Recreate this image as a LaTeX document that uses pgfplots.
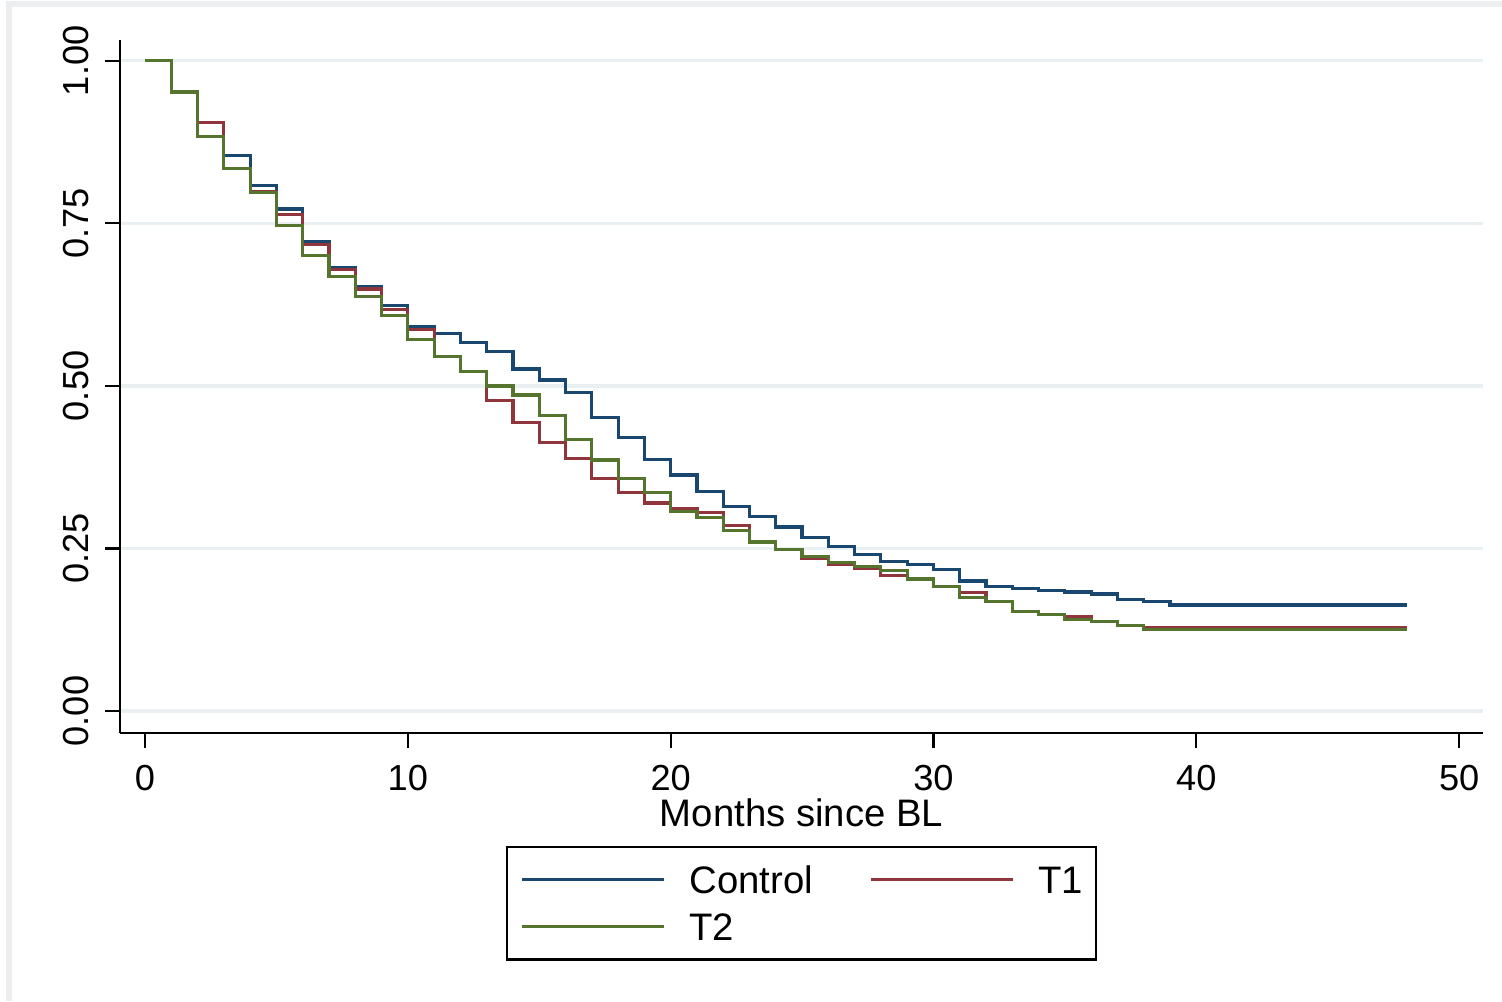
\documentclass[border=0pt]{standalone}
\usepackage{pgfplots}
\pgfplotsset{compat=1.18}
\usepackage{fontspec}
\setmainfont{Liberation Sans}
\definecolor{cnavy}{RGB}{26,71,111}
\definecolor{cmaroon}{RGB}{144,53,59}
\definecolor{cgreen}{RGB}{85,117,47}
\definecolor{cgrid}{RGB}{234,240,241}
\definecolor{cframe}{RGB}{236,238,240}
\begin{document}
\begin{tikzpicture}
\path[use as bounding box] (0,0) rectangle (15.02,10.01);
\draw[cframe, line width=1.5pt] (0.09,0) -- (0.09,9.97) -- (15.02,9.97);
\begin{axis}[
  at={(1.20cm,2.68cm)}, anchor=south west,
  scale only axis, width=13.63cm, height=6.93cm,
  xmin=-0.951, xmax=50.91, ymin=-0.0338, ymax=1.032,
  axis lines*=left,
  axis line style={line width=0.6pt, black},
  tick align=outside,
  major tick length=0.15cm,
  tick style={line width=0.6pt, black},
  xtick={0,10,20,30,40,50}, xticklabels={0,10,20,30,40,50},
  ytick={0,0.25,0.5,0.75,1}, yticklabels={0.00,0.25,0.50,0.75,1.00},
  ymajorgrids, grid style={cgrid, line width=0.9pt},
  ticklabel style={font=\fontsize{10.3}{12}\selectfont, inner sep=0pt},
  xticklabel style={anchor=north},
  yticklabel style={rotate=90, anchor=south},
  xticklabel shift=0.17cm,
  yticklabel shift=0.15cm,
  xlabel={Months since BL},
  xlabel style={font=\fontsize{10.9}{13}\selectfont, inner sep=0pt, at={(axis description cs:0.5,-0.135)}, anchor=base},
  legend columns=2,
  legend cell align=left,
  legend image code/.code={\draw[#1] (0cm,0em) -- (1.42cm,0em);},
  legend style={at={(axis description cs:0.5,-0.163)}, anchor=north,
    draw=black, line width=0.6pt,
    font=\fontsize{10.9}{13}\selectfont,
    inner xsep=3.8pt, inner ysep=4.2pt,
    row sep=3.2pt, column sep=0pt,
    nodes={inner sep=0pt, text height=0.9em, text depth=0.12em},
    /tikz/every odd column/.append style={column sep=6.8pt},
    /tikz/every even column/.append style={column sep=15.95pt}},
]
\addplot[cnavy, line width=0.9pt, const plot] coordinates {
(0,1.000) (1,0.952) (2,0.905) (3,0.854) (4,0.808) (5,0.772) (6,0.722) (7,0.682)
(8,0.653) (9,0.624) (10,0.591) (11,0.580) (12,0.567) (13,0.553) (14,0.526) (15,0.509)
(16,0.490) (17,0.451) (18,0.421) (19,0.387) (20,0.363) (21,0.338) (22,0.315) (23,0.299)
(24,0.283) (25,0.267) (26,0.253) (27,0.241) (28,0.230) (29,0.225) (30,0.218) (31,0.200)
(32,0.191) (33,0.189) (34,0.185) (35,0.183) (36,0.180) (37,0.172) (38,0.169) (39,0.163)
(48,0.163)};
\addlegendentry{Control}
\addplot[cmaroon, line width=0.9pt, const plot] coordinates {
(0,1.000) (1,0.952) (2,0.905) (3,0.834) (4,0.799) (5,0.763) (6,0.718) (7,0.679)
(8,0.649) (9,0.618) (10,0.587) (11,0.545) (12,0.522) (13,0.478) (14,0.444) (15,0.413)
(16,0.388) (17,0.357) (18,0.336) (19,0.320) (20,0.312) (21,0.305) (22,0.285) (23,0.260)
(24,0.249) (25,0.235) (26,0.226) (27,0.219) (28,0.209) (29,0.203) (30,0.191) (31,0.182)
(32,0.168) (33,0.153) (34,0.148) (35,0.145) (36,0.138) (37,0.132) (38,0.128) (48,0.128)};
\addlegendentry{T1}
\addplot[cgreen, line width=0.9pt, const plot] coordinates {
(0,1.000) (1,0.952) (2,0.884) (3,0.834) (4,0.798) (5,0.747) (6,0.701) (7,0.668)
(8,0.637) (9,0.608) (10,0.571) (11,0.545) (12,0.522) (13,0.500) (14,0.486) (15,0.455)
(16,0.418) (17,0.386) (18,0.358) (19,0.336) (20,0.307) (21,0.298) (22,0.278) (23,0.260)
(24,0.249) (25,0.238) (26,0.229) (27,0.222) (28,0.216) (29,0.203) (30,0.191) (31,0.175)
(32,0.168) (33,0.153) (34,0.148) (35,0.141) (36,0.138) (37,0.132) (38,0.126) (48,0.126)};
\addlegendentry{T2}
\end{axis}
\end{tikzpicture}
\end{document}
